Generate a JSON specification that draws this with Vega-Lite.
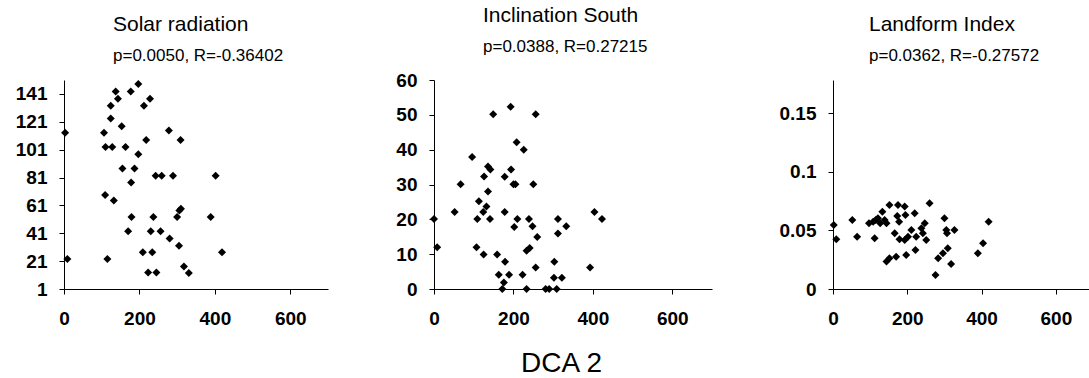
{
  "$schema": "https://vega.github.io/schema/vega-lite/v6.json",
  "padding": {"left": 15, "top": 5, "right": 0, "bottom": 0},
  "spacing": 67,
  "datasets": {
    "solar": [
      {"dca2": 3, "v": 113.1}, {"dca2": 9, "v": 22.6}, {"dca2": 106, "v": 113.1}, {"dca2": 110, "v": 102.9}, {"dca2": 128, "v": 102.9},
      {"dca2": 115, "v": 22.6}, {"dca2": 109, "v": 68.5}, {"dca2": 132, "v": 64.5}, {"dca2": 124, "v": 123.3}, {"dca2": 124, "v": 132.5},
      {"dca2": 137, "v": 142.7}, {"dca2": 143, "v": 137.5}, {"dca2": 153, "v": 117.8}, {"dca2": 163, "v": 102.9}, {"dca2": 155, "v": 87.5},
      {"dca2": 187, "v": 87.5}, {"dca2": 178, "v": 77.5}, {"dca2": 197, "v": 97.7}, {"dca2": 177, "v": 142.7}, {"dca2": 197, "v": 148.2},
      {"dca2": 212, "v": 132.5}, {"dca2": 228, "v": 137.5}, {"dca2": 218, "v": 107.9}, {"dca2": 179, "v": 52.7}, {"dca2": 170, "v": 42.5},
      {"dca2": 237, "v": 52.7}, {"dca2": 230, "v": 42.5}, {"dca2": 256, "v": 42.5}, {"dca2": 243, "v": 82.3}, {"dca2": 259, "v": 82.3},
      {"dca2": 289, "v": 82.3}, {"dca2": 209, "v": 27.3}, {"dca2": 234, "v": 27.3}, {"dca2": 223, "v": 12.8}, {"dca2": 245, "v": 12.8},
      {"dca2": 278, "v": 114.7}, {"dca2": 309, "v": 107.9}, {"dca2": 280, "v": 37.3}, {"dca2": 305, "v": 32}, {"dca2": 300, "v": 52.7},
      {"dca2": 306, "v": 57.4}, {"dca2": 310, "v": 58.6}, {"dca2": 318, "v": 17.1}, {"dca2": 331, "v": 12.4}, {"dca2": 389, "v": 52.7},
      {"dca2": 402, "v": 82.3}, {"dca2": 419, "v": 27.3}
    ],
    "incl": [
      {"dca2": 0, "v": 20.1}, {"dca2": 8, "v": 12}, {"dca2": 52, "v": 22.1}, {"dca2": 67, "v": 30.1}, {"dca2": 96, "v": 37.9},
      {"dca2": 109, "v": 20.1}, {"dca2": 107, "v": 12}, {"dca2": 113, "v": 25.2}, {"dca2": 124, "v": 22.1}, {"dca2": 132, "v": 23.7},
      {"dca2": 126, "v": 32.3}, {"dca2": 136, "v": 28}, {"dca2": 136, "v": 35.2}, {"dca2": 142, "v": 34.3}, {"dca2": 141, "v": 20.1},
      {"dca2": 125, "v": 9.9}, {"dca2": 208, "v": 42.1}, {"dca2": 226, "v": 40}, {"dca2": 159, "v": 9.9}, {"dca2": 179, "v": 7.8},
      {"dca2": 163, "v": 4.1}, {"dca2": 189, "v": 4.1}, {"dca2": 176, "v": 1.9}, {"dca2": 172, "v": 0}, {"dca2": 178, "v": 32.2},
      {"dca2": 178, "v": 22.1}, {"dca2": 194, "v": 34.3}, {"dca2": 200, "v": 30.1}, {"dca2": 205, "v": 30.1}, {"dca2": 202, "v": 17.8},
      {"dca2": 210, "v": 20.1}, {"dca2": 223, "v": 4.1}, {"dca2": 233, "v": 0}, {"dca2": 239, "v": 20.1}, {"dca2": 233, "v": 11},
      {"dca2": 241, "v": 11.8}, {"dca2": 248, "v": 18}, {"dca2": 250, "v": 30.1}, {"dca2": 260, "v": 14.9}, {"dca2": 256, "v": 6.2},
      {"dca2": 281, "v": 0}, {"dca2": 290, "v": 0}, {"dca2": 309, "v": 0}, {"dca2": 303, "v": 7.8}, {"dca2": 302, "v": 3.2},
      {"dca2": 322, "v": 3.2}, {"dca2": 312, "v": 15.9}, {"dca2": 312, "v": 20.1}, {"dca2": 333, "v": 18}, {"dca2": 393, "v": 6.2},
      {"dca2": 404, "v": 22.1}, {"dca2": 423, "v": 20.1}, {"dca2": 149, "v": 50.2}, {"dca2": 193, "v": 52.3}, {"dca2": 256, "v": 50.2}
    ],
    "landform": [
      {"dca2": 2, "v": 0.0547}, {"dca2": 9, "v": 0.0425}, {"dca2": 52, "v": 0.059}, {"dca2": 65, "v": 0.0447}, {"dca2": 97, "v": 0.0561},
      {"dca2": 108, "v": 0.0575}, {"dca2": 112, "v": 0.0433}, {"dca2": 115, "v": 0.059}, {"dca2": 121, "v": 0.0604}, {"dca2": 127, "v": 0.0561},
      {"dca2": 133, "v": 0.0661}, {"dca2": 139, "v": 0.059}, {"dca2": 144, "v": 0.0561}, {"dca2": 152, "v": 0.0718}, {"dca2": 175, "v": 0.0718},
      {"dca2": 193, "v": 0.0704}, {"dca2": 195, "v": 0.0632}, {"dca2": 178, "v": 0.0575}, {"dca2": 173, "v": 0.0624}, {"dca2": 220, "v": 0.0647},
      {"dca2": 260, "v": 0.0732}, {"dca2": 166, "v": 0.0476}, {"dca2": 179, "v": 0.0425}, {"dca2": 193, "v": 0.0419}, {"dca2": 202, "v": 0.0447},
      {"dca2": 211, "v": 0.0504}, {"dca2": 224, "v": 0.0447}, {"dca2": 238, "v": 0.0519}, {"dca2": 247, "v": 0.0561}, {"dca2": 242, "v": 0.0476},
      {"dca2": 251, "v": 0.0419}, {"dca2": 144, "v": 0.0234}, {"dca2": 152, "v": 0.0262}, {"dca2": 170, "v": 0.0276}, {"dca2": 197, "v": 0.0291},
      {"dca2": 222, "v": 0.0333}, {"dca2": 300, "v": 0.0604}, {"dca2": 305, "v": 0.0504}, {"dca2": 307, "v": 0.0476}, {"dca2": 327, "v": 0.0504},
      {"dca2": 283, "v": 0.0262}, {"dca2": 296, "v": 0.0305}, {"dca2": 309, "v": 0.0348}, {"dca2": 318, "v": 0.0214}, {"dca2": 390, "v": 0.0305},
      {"dca2": 404, "v": 0.039}, {"dca2": 419, "v": 0.0575}, {"dca2": 276, "v": 0.012}
    ]
  },
  "hconcat": [
    {
      "data": {"name": "solar"},
      "width": 264,
      "height": 209,
      "title": {"text": "Solar radiation", "subtitle": "p=0.0050, R=-0.36402", "dx": 49},
      "mark": {"type": "point", "shape": "diamond", "filled": true, "color": "black", "size": 64, "opacity": 1},
      "encoding": {
        "x": {"field": "dca2", "type": "quantitative", "scale": {"domain": [0, 700], "nice": false}, "axis": {"values": [0, 200, 400, 600], "title": null}},
        "y": {"field": "v", "type": "quantitative", "scale": {"domain": [1, 151], "nice": false, "zero": false}, "axis": {"values": [1, 21, 41, 61, 81, 101, 121, 141], "title": null}}
      }
    },
    {
      "data": {"name": "incl"},
      "width": 278,
      "height": 209,
      "title": {"text": "Inclination South", "subtitle": "p=0.0388, R=0.27215", "dx": 49},
      "mark": {"type": "point", "shape": "diamond", "filled": true, "color": "black", "size": 64, "opacity": 1},
      "encoding": {
        "x": {"field": "dca2", "type": "quantitative", "scale": {"domain": [0, 700], "nice": false},
              "axis": {"values": [0, 200, 400, 600], "title": "DCA 2", "titleFont": "Liberation Sans", "titleFontSize": 28, "titleFontWeight": "normal", "titleColor": "black", "titleX": 127, "titleY": 82, "titleBaseline": "alphabetic", "titleAlign": "center", "titleAnchor": null}},
        "y": {"field": "v", "type": "quantitative", "scale": {"domain": [0, 60], "nice": false}, "axis": {"values": [0, 10, 20, 30, 40, 50, 60], "title": null}}
      }
    },
    {
      "data": {"name": "landform"},
      "width": 260,
      "height": 209,
      "title": {"text": "Landform Index", "subtitle": "p=0.0362, R=-0.27572", "dx": 36},
      "mark": {"type": "point", "shape": "diamond", "filled": true, "color": "black", "size": 64, "opacity": 1},
      "encoding": {
        "x": {"field": "dca2", "type": "quantitative", "scale": {"domain": [0, 700], "nice": false}, "axis": {"values": [0, 200, 400, 600], "title": null}},
        "y": {"field": "v", "type": "quantitative", "scale": {"domain": [0, 0.1786], "nice": false}, "axis": {"values": [0, 0.05, 0.1, 0.15], "format": "~g", "title": null}}
      }
    }
  ],
  "config": {
    "view": {"stroke": null},
    "background": "white",
    "title": {
      "anchor": "start", "frame": "group", "font": "Liberation Sans", "fontSize": 21, "fontWeight": "normal", "color": "black",
      "subtitleFont": "Liberation Sans", "subtitleFontSize": 17, "subtitleColor": "black", "subtitlePadding": 13, "offset": 16
    },
    "axis": {
      "grid": false, "domainColor": "black", "domainWidth": 1, "tickColor": "black", "tickSize": 5, "tickWidth": 1,
      "labelFont": "Liberation Sans", "labelFontSize": 19, "labelFontWeight": "bold", "labelColor": "black",
      "labelFlush": false, "labelOverlap": false, "labelBound": false
    },
    "axisX": {"labelPadding": 15},
    "axisY": {"labelPadding": 12}
  }
}
